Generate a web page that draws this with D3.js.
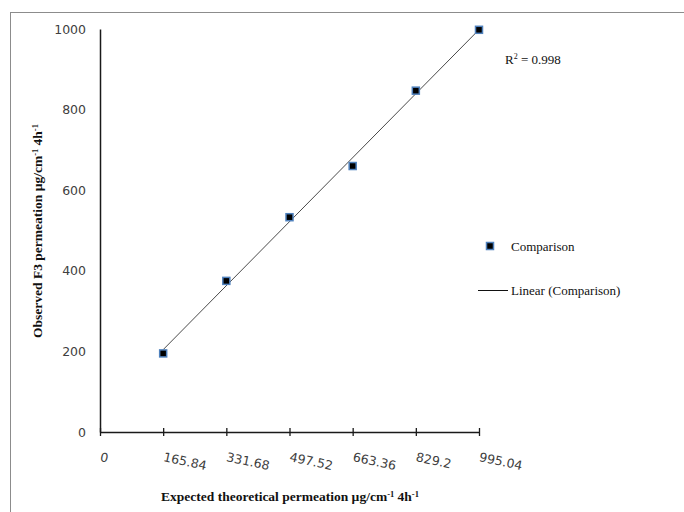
<!DOCTYPE html>
<html>
<head>
<meta charset="utf-8">
<script src="https://cdn.jsdelivr.net/npm/d3@7"></script>
<style>
  html, body { margin: 0; padding: 0; background: #fff; }
  svg { display: block; }
</style>
</head>
<body>
<svg id="chart" width="684" height="512"></svg>
<script>
// Expected vs observed permeation (µg/cm⁻¹ 4h⁻¹)
const expected = [165.84, 331.68, 497.52, 663.36, 829.2, 995.04];
const observed = [195, 375, 533, 660, 847, 998];
const xTickValues = [0, 165.84, 331.68, 497.52, 663.36, 829.2, 995.04];
const xTickLabels = ["0", "165.84", "331.68", "497.52", "663.36", "829.2", "995.04"];
const yTickValues = [0, 200, 400, 600, 800, 1000];
const seriesName = "Comparison";
const rSquaredLabel = "0.998";

const svg = d3.select("#chart");

// outer chart frame
svg.append("rect")
  .attr("x", 10.5).attr("y", 12.5)
  .attr("width", 720).attr("height", 620)
  .attr("fill", "none").attr("stroke", "#8c8c8c").attr("stroke-width", 1);

const x = d3.scaleLinear().domain([0, 995.04]).range([100, 479]);
const y = d3.scaleLinear().domain([0, 1000]).range([432, 29]);

const tickFont = "'DejaVu Sans', Verdana, sans-serif";
const serif = "'Liberation Serif', 'Times New Roman', serif";

// y axis: line with labels, no tick marks
const yAxis = svg.append("g")
  .attr("transform", `translate(${x(0)},0)`)
  .call(d3.axisLeft(y).tickValues(yTickValues).tickSize(0).tickPadding(14).tickFormat(d3.format("d")));
yAxis.select(".domain").attr("stroke", "#1a1a1a").attr("stroke-width", 1.5);
yAxis.selectAll("text")
  .attr("font-family", tickFont).attr("font-size", 12.5).attr("fill", "#404040");

// x axis: crossing tick marks, slanted labels
const xAxis = svg.append("g")
  .attr("transform", `translate(0,${y(0)})`)
  .call(d3.axisBottom(x).tickValues(xTickValues).tickSizeInner(4).tickSizeOuter(0)
    .tickFormat((d, i) => xTickLabels[i]));
xAxis.select(".domain").attr("stroke", "#1a1a1a").attr("stroke-width", 1.5);
xAxis.selectAll(".tick line")
  .attr("y1", -4).attr("y2", 4)
  .attr("stroke", "#1a1a1a").attr("stroke-width", 1.3);
xAxis.selectAll(".tick text")
  .attr("font-family", tickFont).attr("font-size", 12.5).attr("fill", "#404040")
  .attr("text-anchor", "start")
  .attr("y", 0).attr("dy", 0)
  .attr("transform", "translate(-1,29) rotate(12)");

// linear trend line (least squares) over the data range
const mx = d3.mean(expected), my = d3.mean(observed);
const slope = d3.sum(expected, (v, i) => (v - mx) * (observed[i] - my)) /
              d3.sum(expected, v => (v - mx) * (v - mx));
const intercept = my - slope * mx;
const xr = d3.extent(expected);
svg.append("line")
  .attr("x1", x(xr[0])).attr("y1", y(intercept + slope * xr[0]))
  .attr("x2", x(xr[1])).attr("y2", y(intercept + slope * xr[1]))
  .attr("stroke", "#4a4a4a").attr("stroke-width", 1);

// data markers
const ms = 7;
svg.append("g").selectAll("rect")
  .data(expected.map((v, i) => [v, observed[i]]))
  .join("rect")
  .attr("x", d => x(d[0]) - ms / 2).attr("y", d => y(d[1]) - ms / 2)
  .attr("width", ms).attr("height", ms)
  .attr("fill", "#000").attr("stroke", "#4f81bd").attr("stroke-width", 1.5);

// R² annotation
const r2 = svg.append("text")
  .attr("x", 505).attr("y", 64)
  .attr("font-family", serif).attr("font-size", 13).attr("fill", "#111");
r2.append("tspan").text("R");
r2.append("tspan").attr("font-size", 8).attr("dy", -5).text("2");
r2.append("tspan").attr("dy", 5).text(" = " + rSquaredLabel);

// legend
svg.append("rect")
  .attr("x", 490 - ms / 2).attr("y", 246 - ms / 2)
  .attr("width", ms).attr("height", ms)
  .attr("fill", "#000").attr("stroke", "#4f81bd").attr("stroke-width", 1.5);
svg.append("text")
  .attr("x", 511).attr("y", 250.5)
  .attr("font-family", serif).attr("font-size", 13).attr("fill", "#111")
  .text(seriesName);
svg.append("line")
  .attr("x1", 478).attr("x2", 508).attr("y1", 290.5).attr("y2", 290.5)
  .attr("stroke", "#111").attr("stroke-width", 1);
svg.append("text")
  .attr("x", 511).attr("y", 295)
  .attr("font-family", serif).attr("font-size", 13).attr("fill", "#111")
  .text(`Linear (${seriesName})`);

// axis titles with superscript exponents
function unitTitle(sel, main) {
  sel.append("tspan").text(main + " µg/cm");
  sel.append("tspan").attr("font-size", 8.5).attr("dy", -4).text("-1");
  sel.append("tspan").attr("dy", 4).text(" 4h");
  sel.append("tspan").attr("font-size", 8.5).attr("dy", -4).text("-1");
}

const xt = svg.append("text")
  .attr("x", 290).attr("y", 501)
  .attr("text-anchor", "middle")
  .attr("font-family", serif).attr("font-size", 13.5).attr("font-weight", "bold")
  .attr("fill", "#111");
unitTitle(xt, "Expected theoretical permeation");

const yt = svg.append("text")
  .attr("transform", "translate(42,231) rotate(-90)")
  .attr("text-anchor", "middle")
  .attr("font-family", serif).attr("font-size", 13.5).attr("font-weight", "bold")
  .attr("fill", "#111");
unitTitle(yt, "Observed F3 permeation");
</script>
</body>
</html>
